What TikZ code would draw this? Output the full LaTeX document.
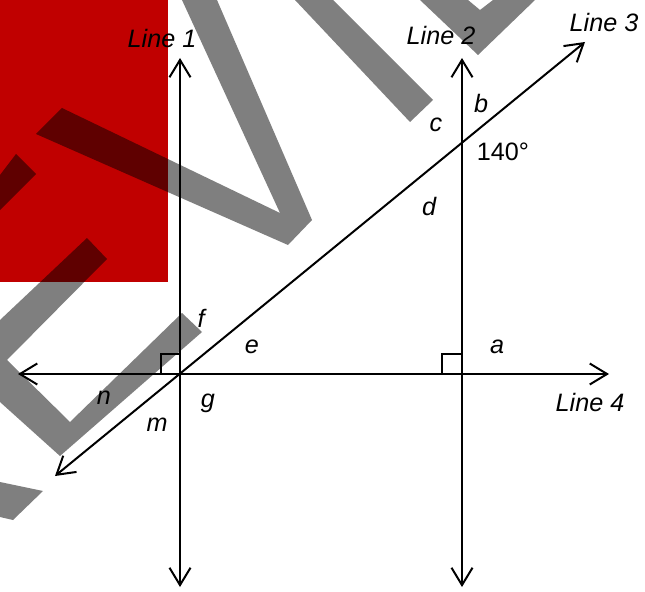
\documentclass[tikz,border=0pt]{standalone}
\usepackage{fontspec}
\setmainfont{Liberation Sans}
\usetikzlibrary{arrows.meta}
\definecolor{myred}{HTML}{C00000}
\tikzset{
  barb/.style={line width=1.7pt, {Straight Barb[length=5.2mm,width=6.3mm]}-{Straight Barb[length=5.2mm,width=6.3mm]}},
  rbox/.style={line width=1.1pt},
  lab/.style={font=\fontsize{21.5}{25}\selectfont\itshape, inner sep=0pt},
  deg/.style={font=\fontsize{21.5}{25}\selectfont, inner sep=0pt},
  wm/.style={fill=black, fill opacity=0.5},
}

\begin{document}
\begin{tikzpicture}[x=0.03cm, y=-0.03cm]
    \useasboundingbox (0,0) rectangle (645,592);
    % backdrop
    \fill[myred] (0,0) rectangle (168,282);
    \fill[wm] (182,0) -- (217,0) -- (312,220) -- (288,245) -- (36,134) -- (62,108) -- (280,213) -- cycle;
    \fill[wm] (295,0) -- (333,0) -- (433,100) -- (410,122) -- cycle;
    \fill[wm] (420,0) -- (478,55) -- (535,0) -- (493,0) -- (480,10) -- (468,0) -- cycle;
    \fill[wm] (0,175) -- (16,154) -- (36,174) -- (0,210) -- cycle;
    \fill[wm] (87,238) -- (107,259) -- (7,360) -- (70,422) -- (182,313) -- (202,332) -- (60,456) -- (0,402) -- (0,320) -- cycle;
    \fill[wm] (0,482) -- (43,491) -- (13,520) -- (0,517) -- cycle;
    % points on the lines
    \coordinate (A) at (180,374);
    \coordinate (B) at (462,374);
    \coordinate (C) at (462,143);
    \coordinate (l1top) at (180,58);
    \coordinate (l1bot) at (180,587);
    \coordinate (l2top) at (462,58);
    \coordinate (l2bot) at (462,587);
    \coordinate (l3lo) at (55,476);
    \coordinate (l3hi) at (585,42);
    \coordinate (l4lft) at (18,374);
    \coordinate (l4rgt) at (609,374);
    \draw[barb] (l1bot) -- (l1top);
    \draw[barb] (l2bot) -- (l2top);
    \draw[barb] (l3lo) -- (l3hi);
    \draw[barb] (l4lft) -- (l4rgt);
    \draw[rbox] (A) ++(-19,0) |- ++(19,-20);
    \draw[rbox] (B) ++(-20,0) |- ++(20,-20);
    % labels
    \node[lab] (lone) at (162,38) {Line 1};
    \node[lab] (ltwo) at (441,35) {Line 2};
    \node[lab] (lthree) at (604,22) {Line 3};
    \node[lab] (lfour) at (590,402) {Line 4};
    \foreach \x/\y/\t in {497/347/a, 481/103/b, 436/125/c, 429/207/d, 252/347/e, 201/318/f, 208/403/g, 157/425/m, 104/398/n}
      \node[lab] (\t) at (\x,\y) {\t};
    \node[deg] (ang) at (503,152) {140°};
  \end{tikzpicture}
\end{document}
